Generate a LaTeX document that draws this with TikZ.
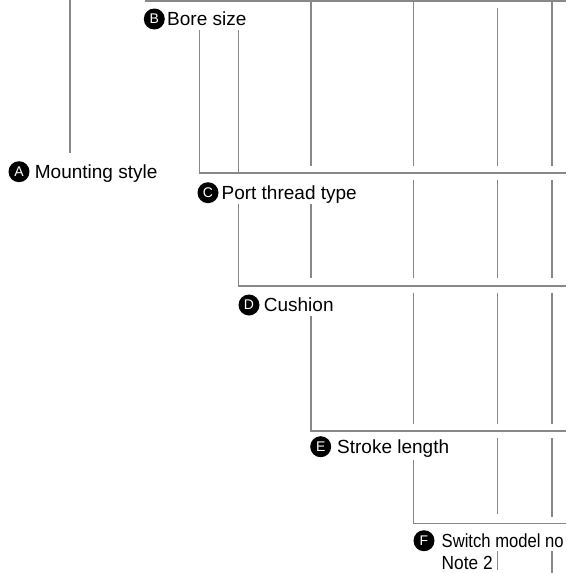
\documentclass[tikz,border=0pt]{standalone}
\usepackage{fontspec}
\setmainfont{Liberation Sans}
\definecolor{linegray}{HTML}{888888}
\begin{document}
\begin{tikzpicture}[x=1pt,y=-1pt,
  ln/.style={draw=linegray,line width=1.6pt},
  badge/.style={circle,fill=black,text=white,inner sep=0pt,minimum size=21pt,font=\fontsize{14}{14}\selectfont},
  lbl/.style={anchor=base west,inner sep=0pt,font=\fontsize{19}{22}\selectfont}]
\useasboundingbox (0,0) rectangle (566,573);
% labels
\node[badge] (bA) at (19,171.7) {A};
\node[lbl] (tA) at (34.7,178.4) {Mounting style};
\node[badge] (bB) at (154.3,19) {B};
\node[lbl] (tB) at (167,25.7) {Bore size};
\node[badge] (bC) at (208,192.7) {C};
\node[lbl] (tC) at (221.4,199.4) {Port thread type};
\node[badge] (bD) at (249,305) {D};
\node[lbl] (tD) at (263.7,311.7) {Cushion};
\node[badge] (bE) at (320.7,446.7) {E};
\node[lbl] (tE) at (337,453.4) {Stroke length};
\node[badge] (bF) at (424,540.7) {F};
\node[lbl] (tF) at (441.5,547.4) {\scalebox{0.875}[1]{Switch model no}};
\node[lbl] (tN) at (441.5,569.3) {\scalebox{0.91}[1]{Note 2}};
% lines
\draw[ln] (145,1) -- (566,1);
\draw[ln] (70,0) -- (70,153);
\foreach \x in {310.7,413.3,552} \draw[ln] (\x,1) -- (\x,166);
\draw[ln] (497.3,8) -- (497.3,166);
\draw[ln] (199.3,30) -- (199.3,172.7) -- (566,172.7);
\draw[ln] (238.3,30) -- (238.3,172.7);
\foreach \x in {413.3,497.3,552} \draw[ln] (\x,180) -- (\x,277.7);
\draw[ln] (310.7,204.3) -- (310.7,277.7);
\draw[ln] (238.3,204.3) -- (238.3,286) -- (566,286);
\foreach \x in {413.3,497.3,552} \draw[ln] (\x,292.7) -- (\x,424);
\draw[ln] (310.7,316) -- (310.7,430.7) -- (566,430.7);
\draw[ln] (497.3,438.3) -- (497.3,514);
\draw[ln] (552,438.3) -- (552,516.7);
\draw[ln] (413.3,460) -- (413.3,523.3) -- (566,523.3);
\draw[ln] (497.3,551) -- (497.3,570);
\draw[ln] (552,551) -- (552,573);
\end{tikzpicture}
\end{document}
